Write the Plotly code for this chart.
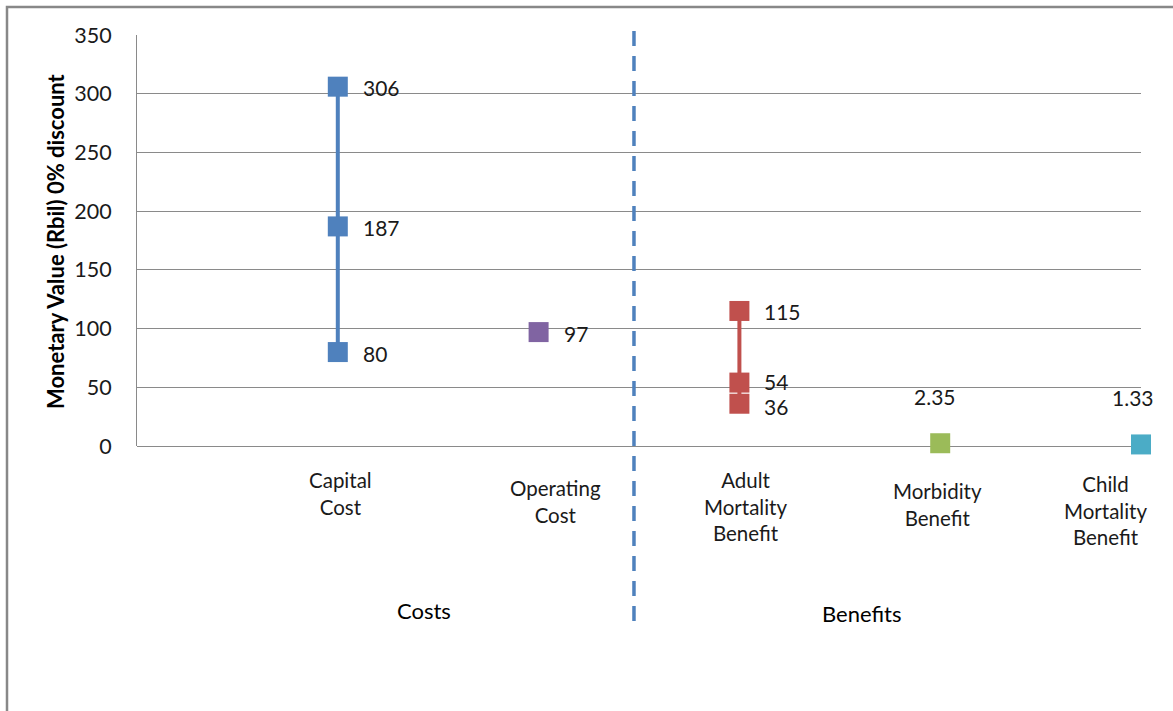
import plotly.graph_objects as go

# ---- data -------------------------------------------------------------
categories = ["Capital<br>Cost", "Operating<br>Cost", "Adult<br>Mortality<br>Benefit",
              "Morbidity<br>Benefit", "Child<br>Mortality<br>Benefit"]
capital_cost = [306, 187, 80]
operating_cost = [97]
adult_mortality = [115, 54, 36]
morbidity = [2.35]
child_mortality = [1.33]
y_ticks = [0, 50, 100, 150, 200, 250, 300, 350]

# ---- geometry helpers (pixel layout of the canvas) -------------------
W, H = 1173, 711
L, R, T, B = 137, 32, 35, 265
PW, PH = W - L - R, H - T - B


def px_x(p):
    return (p - L) / PW


def px_y(p):
    return (H - B - p) / PH


FONT = "Lato, 'Open Sans', sans-serif"
TXT = "#1a1a1a"
BLUE, RED, PURPLE, GREEN, CYAN = "#4F81BD", "#C0504D", "#8064A2", "#9BBB59", "#4BACC6"
GRID = "#8a8a8a"

fig = go.Figure()

series = [
    (1, capital_cost, BLUE),
    (2, operating_cost, PURPLE),
    (3, adult_mortality, RED),
    (4, morbidity, GREEN),
    (5, child_mortality, CYAN),
]
for xpos, vals, col in series:
    fig.add_trace(go.Scatter(
        x=[xpos] * len(vals), y=vals,
        mode="lines+markers",
        line=dict(color=col, width=4),
        marker=dict(symbol="square", size=20, color=col, line=dict(width=0)),
        cliponaxis=False, showlegend=False, hoverinfo="skip",
    ))

annotations = []
# value labels to the right of the markers; the two close red labels are
# nudged apart slightly so they do not collide
nudge = {54: 2, 36: -2}
for xpos, vals, col in series[:3]:
    for v in vals:
        annotations.append(dict(
            x=xpos, y=v, xref="x", yref="y", text=f"{v:g}",
            showarrow=False, xanchor="left", yanchor="middle", xshift=23,
            yshift=-1 + nudge.get(v, 0),
            font=dict(family=FONT, size=21, color=TXT),
        ))
# value labels above the near-zero markers
for xpos, vals, col in series[3:]:
    for v in vals:
        annotations.append(dict(
            x=xpos, y=v, xref="x", yref="y", text=f"{v:.2f}",
            showarrow=False, xanchor="center", yanchor="middle",
            xshift=-5 if xpos == 4 else -8, yshift=47,
            font=dict(family=FONT, size=21, color=TXT),
        ))

# category labels under the axis
cat_shift = [3, 17, 6, -3, -36]
cat_center_px = [493, 501, 507, 504, 511]
for i, (lbl, dx, cy) in enumerate(zip(categories, cat_shift, cat_center_px)):
    annotations.append(dict(
        x=i + 1, y=px_y(cy), xref="x", yref="paper", text=lbl,
        showarrow=False, xanchor="center", yanchor="middle", xshift=dx,
        align="center", font=dict(family=FONT, size=20.5, color=TXT),
    ))

# group labels
annotations.append(dict(x=px_x(424), y=px_y(610), xref="paper", yref="paper", text="Costs",
                        showarrow=False, xanchor="center", yanchor="middle",
                        font=dict(family=FONT, size=22, color="#000")))
annotations.append(dict(x=px_x(861), y=px_y(613), xref="paper", yref="paper", text="Benefits",
                        showarrow=False, xanchor="center", yanchor="middle",
                        font=dict(family=FONT, size=22, color="#000")))

# y-axis title
annotations.append(dict(x=px_x(55), y=px_y(241), xref="paper", yref="paper",
                        text="<b>Monetary Value (Rbil) 0% discount</b>", textangle=-90,
                        showarrow=False, xanchor="center", yanchor="middle",
                        font=dict(family=FONT, size=22, color="#000")))

shapes = [
    # outer frame
    dict(type="rect", xref="paper", yref="paper",
         x0=px_x(7), x1=px_x(W + 40), y0=px_y(H + 40), y1=px_y(7),
         line=dict(color="#888888", width=2.5), fillcolor="rgba(0,0,0,0)", layer="above"),
    # costs / benefits divider
    dict(type="line", xref="x", yref="paper", x0=2.475, x1=2.475,
         y0=px_y(621), y1=px_y(27),
         line=dict(color=BLUE, width=3.5, dash="15px,10px"), layer="above"),
]

fig.update_layout(
    width=W, height=H,
    margin=dict(l=L, r=R, t=T, b=B, pad=0),
    paper_bgcolor="white", plot_bgcolor="white",
    xaxis=dict(range=[0, 5], showgrid=False, zeroline=False, showline=False,
               showticklabels=False, ticks="", fixedrange=True),
    yaxis=dict(range=[0, 350], tickvals=y_ticks, showgrid=True, gridcolor=GRID, gridwidth=1,
               zeroline=True, zerolinecolor=GRID, zerolinewidth=1,
               showline=True, linecolor=GRID, linewidth=1,
               ticks="", ticklabelstandoff=20,
               tickfont=dict(family=FONT, size=21.5, color=TXT), fixedrange=True),
    annotations=annotations,
    shapes=shapes,
    showlegend=False,
)

fig.write_html("out.html")
